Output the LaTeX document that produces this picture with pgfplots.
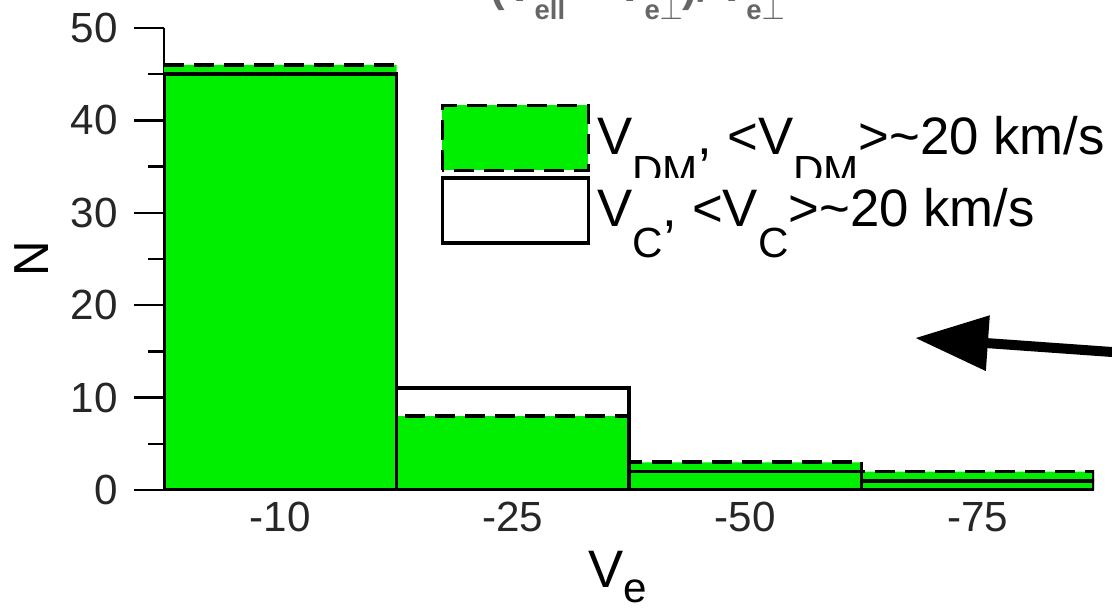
\documentclass[border=0pt]{standalone}
\usepackage{fontspec}
\setmainfont{Liberation Sans}
\usepackage{pgfplots}
\pgfplotsset{compat=1.18}
\usetikzlibrary{arrows.meta}
\definecolor{vgreen}{RGB}{0,238,0}
\newcommand\lsub[1]{\raisebox{-8.8pt}[0pt][0pt]{\fontsize{12}{12}\selectfont #1}}
\begin{document}
\begin{tikzpicture}
\begin{axis}[
 at={(16.4mm,12.0mm)}, anchor=south west,
 scale only axis, width=93mm, height=46.2mm,
 xmin=0, xmax=4, ymin=0, ymax=50,
 axis x line*=bottom, axis y line*=left,
 axis line style={-, line width=0.7pt},
 xtick={0.5,1.5,2.5,3.5}, xticklabels={-10,-25,-50,-75},
 major x tick style={draw=none},
 ytick={0,10,20,30,40,50}, minor ytick={5,15,25,35,45},
 tick align=outside,
 major tick length=3mm, minor tick length=1.6mm,
 tick style={line width=0.7pt, black},
 tick label style={font=\fontsize{12}{14}\selectfont, text=black!85},
 yticklabel style={xshift=-0.4mm},
 xticklabel style={yshift=3mm},
 /pgf/number format/assume math mode=true,
 ylabel={N},
 ylabel style={at={(axis description cs:-0.1425,0.5)}, anchor=center, font=\fontsize{14}{15}\selectfont},
 xlabel={V\raisebox{-4.2pt}{\fontsize{12}{12}\selectfont e}},
 xlabel style={at={(axis description cs:0.488,-0.2120)}, anchor=base, font=\fontsize{15}{16}\selectfont},
 legend style={draw=none, fill=none, at={(axis cs:1.187,41.9)}, anchor=north west,
   inner sep=0pt, row sep=0.4mm, font=\fontsize{15}{16}\selectfont,
   /tikz/every even column/.append style={nodes={fill=white, inner ysep=1.05mm}}},
 legend cell align=left,
]
\addplot[ybar, bar width=1, bar shift=0pt, fill=vgreen, draw=black,
  line width=1.1pt, dash pattern=on 2mm off 1mm,
  legend image code/.code={\draw[fill=vgreen, draw=black, line width=1pt, dash pattern=on 2mm off 1mm] (0mm,-3.25mm) rectangle (14.6mm,3.25mm);}]
  coordinates {(0.5,46) (1.5,8) (2.5,3) (3.5,2)};
\addlegendentry{V\lsub{DM}, <V\lsub{DM}>\textasciitilde 20 km/s}
\addplot[ybar, bar width=1, bar shift=0pt, fill=none, draw=black, line width=1.1pt,
  legend image code/.code={\draw[fill=white, draw=black, line width=1pt] (0mm,-3.25mm) rectangle (14.6mm,3.25mm);}]
  coordinates {(0.5,45) (1.5,11) (2.5,2) (3.5,1)};
\addlegendentry{V\lsub{C}, <V\lsub{C}>\textasciitilde 20 km/s}
\end{axis}
\begin{scope}[x=0.1mm, y=-0.1mm, yshift=61mm]
\draw[line width=1mm, -{Triangle[length=7.3mm, width=5.3mm]}] (1140,354) -- (915,338);
\node[anchor=base west, inner sep=0pt, text=black!60, font=\bfseries\fontsize{12.5}{14}\selectfont] at (490,2)
  {(V\raisebox{-5pt}{\fontsize{7.8}{9}\selectfont ell} + V\raisebox{-5pt}{\fontsize{7.8}{9}\selectfont e$\perp$})/\,V\raisebox{-5pt}{\fontsize{7.8}{9}\selectfont e$\perp$}};
\end{scope}
\pgfresetboundingbox
\useasboundingbox (0,0) rectangle (111.2mm,61mm);
\end{tikzpicture}
\end{document}
